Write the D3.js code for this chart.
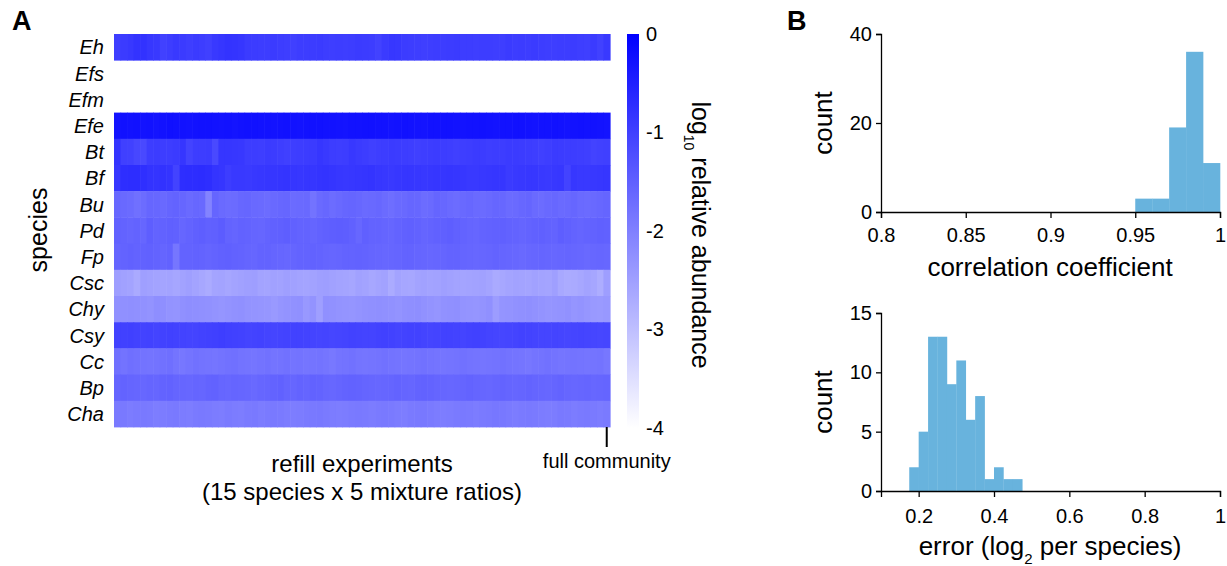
<!DOCTYPE html>
<html>
<head>
<meta charset="utf-8">
<script src="https://cdn.jsdelivr.net/npm/d3@7"></script>
<style>
  body { margin: 0; background: #fff; }
  svg { font-family: "Liberation Sans", Arial, sans-serif; }
  .axis path, .axis line { stroke: #000; stroke-width: 1.3; }
  .axis text { font-size: 20px; fill: #000; }
</style>
</head>
<body>
<svg id="chart" width="1227" height="566"></svg>
<script>
// ---- data ----
var species = ["Eh", "Efs", "Efm", "Efe", "Bt", "Bf", "Bu", "Pd", "Fp", "Csc", "Chy", "Csy", "Cc", "Bp", "Cha"];
// 75 refill experiments + full community (last column); Efs, Efm absent
var abundEh = [-0.98,-0.92,-0.88,-0.80,-0.78,-0.86,-0.90,-1.02,-0.95,-0.90, -0.93,-0.98,-0.92,-0.95,-1.00,-0.90,-0.85,-0.80,-0.82,-0.84, -0.92,-0.94,-0.96,-0.95,-0.93,-0.96,-0.98,-1.00,-0.95,-0.96, -0.94,-0.92,-0.95,-0.97,-0.96,-0.98,-0.95,-0.93,-0.94,-0.96, -1.04,-0.92,-0.86,-0.88,-0.94,-0.96,-0.97,-0.99,-0.98,-0.96, -0.95,-0.94,-0.92,-0.96,-0.95,-0.97,-0.96,-0.95,-0.98,-0.97, -0.93,-0.95,-0.94,-0.96,-0.92,-0.95,-0.97,-0.98,-0.95,-0.96, -0.94,-0.97,-0.99,-0.93,-1.02,-0.90];
var abundEfe = [-0.30,-0.26,-0.28,-0.27,-0.30,-0.29,-0.31,-0.28,-0.25,-0.27, -0.29,-0.30,-0.28,-0.27,-0.26,-0.28,-0.30,-0.29,-0.31,-0.28, -0.27,-0.26,-0.28,-0.29,-0.30,-0.28,-0.27,-0.29,-0.30,-0.28, -0.26,-0.27,-0.29,-0.28,-0.30,-0.31,-0.29,-0.28,-0.27,-0.26, -0.28,-0.29,-0.30,-0.28,-0.27,-0.29,-0.30,-0.31,-0.29,-0.28, -0.27,-0.26,-0.28,-0.30,-0.29,-0.28,-0.27,-0.29,-0.30,-0.28, -0.29,-0.27,-0.26,-0.28,-0.30,-0.29,-0.28,-0.27,-0.29,-0.30, -0.28,-0.27,-0.29,-0.28,-0.30,-0.32];
var abundBt = [-0.80,-1.00,-1.02,-1.12,-1.15,-0.95,-0.94,-0.96,-0.95,-0.93, -0.85,-1.05,-0.95,-0.96,-0.94,-1.15,-0.85,-0.84,-0.86,-0.88, -0.95,-0.96,-0.97,-0.93,-0.94,-0.98,-1.00,-0.97,-0.95,-0.94, -0.92,-0.85,-0.90,-0.95,-0.98,-0.96,-0.88,-0.93,-0.96,-1.00, -0.97,-0.95,-0.93,-0.94,-0.96,-0.98,-1.00,-0.97,-0.95,-0.94, -0.96,-0.98,-1.00,-0.97,-0.95,-0.93,-0.94,-0.97,-0.96,-0.95, -0.93,-0.92,-0.94,-0.96,-0.98,-1.00,-0.97,-0.92,-0.94,-0.96, -0.95,-0.97,-0.99,-1.05,-1.02,-1.00];
var abundBf = [-0.85,-0.72,-0.70,-0.71,-0.74,-0.80,-0.82,-0.79,-0.81,-1.05, -0.72,-0.70,-0.71,-0.69,-0.72,-0.82,-0.84,-0.95,-0.90,-0.89, -0.91,-0.88,-0.86,-0.85,-0.84,-0.83,-0.82,-0.84,-0.86,-0.85, -0.84,-0.82,-0.80,-0.83,-0.86,-0.88,-0.87,-0.85,-0.83,-0.82, -0.86,-0.88,-0.90,-0.87,-0.85,-0.84,-0.86,-0.88,-0.87,-0.85, -0.84,-0.83,-0.85,-0.87,-0.89,-0.90,-0.88,-0.86,-0.85,-0.85, -0.92,-0.90,-0.88,-0.86,-0.87,-0.89,-0.91,-0.88,-0.86,-1.05, -0.87,-0.89,-0.90,-0.88,-0.86,-0.84];
var abundBu = [-1.62,-1.65,-1.68,-1.75,-1.70,-1.60,-1.62,-1.64,-1.58,-1.56, -1.60,-1.66,-1.62,-1.64,-2.05,-1.58,-1.66,-1.70,-1.68,-1.62, -1.60,-1.64,-1.66,-1.70,-1.65,-1.62,-1.60,-1.68,-1.66,-1.64, -1.80,-1.66,-1.62,-1.70,-1.64,-1.60,-1.58,-1.62,-1.66,-1.64, -1.62,-1.68,-1.72,-1.66,-1.64,-1.60,-1.62,-1.70,-1.66,-1.58, -1.62,-1.66,-1.70,-1.64,-1.62,-1.66,-1.68,-1.64,-1.60,-1.62, -1.68,-1.66,-1.62,-1.58,-1.66,-1.70,-1.64,-1.62,-1.66,-1.64, -1.60,-1.66,-1.68,-1.64,-1.62,-1.58];
var abundPd = [-1.52,-1.56,-1.58,-1.55,-1.60,-1.48,-1.55,-1.54,-1.50,-1.52, -1.60,-1.56,-1.50,-1.48,-1.52,-1.50,-1.45,-1.55,-1.58,-1.54, -1.56,-1.58,-1.60,-1.55,-1.52,-1.50,-1.48,-1.52,-1.55,-1.56, -1.58,-1.54,-1.50,-1.48,-1.46,-1.48,-1.52,-1.62,-1.50,-1.55, -1.56,-1.58,-1.60,-1.55,-1.52,-1.50,-1.54,-1.58,-1.56,-1.52, -1.50,-1.48,-1.52,-1.55,-1.58,-1.60,-1.56,-1.54,-1.52,-1.50, -1.54,-1.56,-1.58,-1.55,-1.52,-1.50,-1.54,-1.56,-1.48,-1.52, -1.55,-1.58,-1.56,-1.54,-1.50,-1.52];
var abundFp = [-1.58,-1.55,-1.52,-1.56,-1.54,-1.52,-1.55,-1.58,-1.54,-1.85, -1.56,-1.55,-1.54,-1.56,-1.58,-1.55,-1.52,-1.50,-1.54,-1.56, -1.58,-1.60,-1.56,-1.55,-1.58,-1.60,-1.62,-1.58,-1.56,-1.55, -1.54,-1.56,-1.58,-1.60,-1.58,-1.56,-1.55,-1.54,-1.56,-1.58, -1.60,-1.62,-1.60,-1.58,-1.56,-1.55,-1.58,-1.60,-1.62,-1.60, -1.58,-1.56,-1.55,-1.58,-1.60,-1.62,-1.60,-1.58,-1.56,-1.58, -1.60,-1.62,-1.64,-1.62,-1.60,-1.58,-1.60,-1.62,-1.60,-1.58, -1.60,-1.62,-1.64,-1.62,-1.60,-1.62];
var abundCsc = [-2.48,-2.52,-2.55,-2.66,-2.50,-2.52,-2.56,-2.58,-2.55,-2.60, -2.54,-2.50,-2.55,-2.62,-2.68,-2.58,-2.55,-2.60,-2.56,-2.52, -2.50,-2.48,-2.55,-2.58,-2.52,-2.54,-2.50,-2.52,-2.56,-2.58, -2.54,-2.50,-2.48,-2.52,-2.55,-2.58,-2.60,-2.52,-2.56,-2.62, -2.58,-2.54,-2.68,-2.55,-2.60,-2.62,-2.56,-2.52,-2.56,-2.54, -2.50,-2.52,-2.55,-2.58,-2.56,-2.54,-2.52,-2.58,-2.66,-2.62, -2.58,-2.54,-2.56,-2.58,-2.52,-2.55,-2.58,-2.50,-2.64,-2.68, -2.66,-2.62,-2.56,-2.60,-2.72,-2.48];
var abundChy = [-2.28,-2.26,-2.24,-2.26,-2.28,-2.30,-2.22,-2.24,-2.30,-2.32, -2.26,-2.22,-2.24,-2.26,-2.28,-2.30,-2.34,-2.30,-2.28,-2.26, -2.30,-2.32,-2.34,-2.36,-2.40,-2.34,-2.30,-2.28,-2.26,-2.38, -2.30,-2.50,-2.26,-2.28,-2.30,-2.32,-2.34,-2.30,-2.28,-2.26, -2.24,-2.26,-2.28,-2.30,-2.26,-2.24,-2.22,-2.28,-2.30,-2.34, -2.28,-2.26,-2.24,-2.30,-2.32,-2.34,-2.30,-2.26,-2.44,-2.32, -2.30,-2.28,-2.26,-2.24,-2.28,-2.30,-2.34,-2.32,-2.30,-2.28, -2.34,-2.30,-2.36,-2.40,-2.42,-2.38];
var abundCsy = [-1.04,-1.02,-1.00,-1.03,-1.05,-1.04,-1.06,-1.04,-1.02,-1.03, -1.05,-1.07,-1.06,-1.04,-1.02,-1.00,-0.98,-1.00,-1.02,-1.04, -1.06,-1.05,-1.04,-1.06,-1.08,-1.07,-1.05,-1.04,-1.03,-1.05, -1.06,-1.08,-1.07,-1.10,-1.08,-1.06,-1.04,-1.05,-1.07,-1.06, -1.04,-1.02,-1.04,-1.06,-1.05,-1.03,-1.04,-1.06,-1.08,-1.06, -1.04,-1.03,-1.05,-1.06,-1.04,-1.02,-1.04,-1.06,-1.08,-1.10, -1.08,-1.06,-1.04,-1.05,-1.07,-1.09,-1.08,-1.06,-1.08,-1.10, -1.08,-1.06,-1.08,-1.10,-1.12,-1.10];
var abundCc = [-1.76,-1.80,-1.74,-1.78,-1.80,-1.82,-1.80,-1.78,-1.74,-1.82, -1.86,-1.82,-1.78,-1.80,-1.82,-1.84,-1.80,-1.78,-1.76,-1.80, -1.82,-1.84,-1.80,-1.78,-1.82,-1.80,-1.78,-1.82,-1.80,-1.84, -1.82,-1.80,-1.84,-1.88,-1.82,-1.80,-1.78,-1.82,-1.84,-1.82, -1.80,-1.78,-1.80,-1.82,-1.84,-1.82,-1.80,-1.78,-1.80,-1.82, -1.84,-1.82,-1.80,-1.78,-1.80,-1.82,-1.84,-1.82,-1.80,-1.78, -1.80,-1.82,-1.84,-1.86,-1.82,-1.80,-1.78,-1.80,-1.84,-1.82, -1.80,-1.82,-1.84,-1.82,-1.80,-1.86];
var abundBp = [-1.58,-1.56,-1.58,-1.60,-1.62,-1.58,-1.60,-1.56,-1.54,-1.58, -1.60,-1.62,-1.58,-1.60,-1.56,-1.54,-1.60,-1.62,-1.58,-1.60, -1.62,-1.64,-1.60,-1.58,-1.56,-1.52,-1.58,-1.60,-1.56,-1.58, -1.54,-1.56,-1.60,-1.62,-1.58,-1.56,-1.54,-1.56,-1.58,-1.60, -1.62,-1.60,-1.58,-1.56,-1.58,-1.60,-1.56,-1.54,-1.56,-1.58, -1.60,-1.62,-1.60,-1.58,-1.56,-1.58,-1.60,-1.62,-1.58,-1.56, -1.58,-1.60,-1.58,-1.56,-1.58,-1.60,-1.62,-1.58,-1.56,-1.60, -1.62,-1.60,-1.58,-1.62,-1.60,-1.58];
var abundCha = [-1.92,-1.90,-1.94,-1.92,-1.90,-1.92,-1.96,-1.94,-1.92,-1.90, -1.94,-1.96,-1.92,-1.90,-1.92,-1.94,-1.96,-1.92,-1.94,-1.96, -1.92,-1.90,-1.94,-1.92,-1.90,-1.92,-1.94,-1.96,-1.94,-1.92, -1.90,-1.88,-1.92,-1.94,-1.96,-1.94,-1.92,-1.90,-1.92,-1.94, -1.92,-1.90,-1.92,-1.94,-1.96,-1.92,-1.90,-1.88,-1.92,-1.94, -1.96,-1.94,-1.92,-1.90,-1.92,-1.94,-1.92,-1.90,-1.86,-1.88, -1.92,-1.94,-1.92,-1.90,-1.92,-1.94,-1.96,-1.94,-1.90,-1.92, -1.94,-1.92,-1.90,-1.92,-1.94,-1.92];
var colorTicks = [0, -1, -2, -3, -4];

// histogram of correlation coefficients (bin lower edges, width 0.01)
var corrBinStart = [0.95, 0.96, 0.97, 0.98, 0.99];
var corrCounts = [3, 3, 19, 36, 11];
var corrTicks = [0.8, 0.85, 0.9, 0.95, 1];
var countTicksTop = [0, 20, 40];
// histogram of errors (bin lower edges, width 0.025)
var errBinStart = [0.175, 0.2, 0.225, 0.25, 0.275, 0.3, 0.325, 0.35, 0.375, 0.4, 0.425, 0.45];
var errCounts = [2, 5, 13, 13, 9, 11, 6, 8, 1, 2, 1, 1];
var errTicks = [0.2, 0.4, 0.6, 0.8, 1];
var countTicksBottom = [0, 5, 10, 15];

var rows = {
	Eh: abundEh, Efs: null, Efm: null, Efe: abundEfe, Bt: abundBt, Bf: abundBf,
	Bu: abundBu, Pd: abundPd, Fp: abundFp, Csc: abundCsc, Chy: abundChy,
	Csy: abundCsy, Cc: abundCc, Bp: abundBp, Cha: abundCha
};

var svg = d3.select("#chart");
var histColor = "#68b3dd";

// ---- panel A: heatmap ----
var nCols = abundEh.length;
var x = d3.scaleBand().domain(d3.range(nCols)).range([114, 610]);
var y = d3.scaleBand().domain(species).range([34, 427]);
var color = d3.scaleLinear().domain([-4, 0]).range(["#ffffff", "#0000ff"]);

var cells = [];
species.forEach(function(s) {
	if (!rows[s]) return;
	rows[s].forEach(function(v, i) { cells.push({s: s, i: i, v: v}); });
});

svg.append("g").selectAll("rect")
	.data(cells)
	.enter().append("rect")
	.attr("x", function(d) { return x(d.i); })
	.attr("y", function(d) { return y(d.s); })
	.attr("width", x.bandwidth() + 0.6)
	.attr("height", y.bandwidth() + 0.4)
	.attr("fill", function(d) { return color(d.v); });

svg.append("g").selectAll("text")
	.data(species)
	.enter().append("text")
	.attr("x", 104)
	.attr("y", function(d) { return y(d) + y.bandwidth() / 2; })
	.attr("dy", "0.36em")
	.attr("text-anchor", "end")
	.style("font-size", "20px")
	.style("font-style", "italic")
	.text(function(d) { return d; });

svg.append("text")
	.attr("transform", "translate(47,230) rotate(-90)")
	.attr("text-anchor", "middle")
	.style("font-size", "25px")
	.text("species");

// full community marker
var fcX = x(nCols - 1) + x.bandwidth() / 2;
svg.append("line")
	.attr("x1", fcX).attr("x2", fcX)
	.attr("y1", 427).attr("y2", 447)
	.attr("stroke", "#000").attr("stroke-width", 2);
svg.append("text")
	.attr("x", fcX).attr("y", 468)
	.attr("text-anchor", "middle")
	.style("font-size", "20px")
	.text("full community");

svg.append("text")
	.attr("x", 362).attr("y", 472)
	.attr("text-anchor", "middle")
	.style("font-size", "24px")
	.text("refill experiments");
svg.append("text")
	.attr("x", 362).attr("y", 500)
	.attr("text-anchor", "middle")
	.style("font-size", "24px")
	.text("(15 species x 5 mixture ratios)");

// colour bar
var cb = d3.scaleLinear().domain([0, -4]).range([34, 428]);
var grad = svg.append("defs").append("linearGradient")
	.attr("id", "cbGrad")
	.attr("x1", 0).attr("y1", 0).attr("x2", 0).attr("y2", 1);
d3.range(0, 1.01, 0.25).forEach(function(t) {
	grad.append("stop")
		.attr("offset", t)
		.attr("stop-color", color(cb.invert(34 + t * (428 - 34))));
});
svg.append("rect")
	.attr("x", 627).attr("y", cb(0))
	.attr("width", 12).attr("height", cb(-4) - cb(0))
	.attr("fill", "url(#cbGrad)");

svg.append("g")
	.attr("class", "axis cbar")
	.attr("transform", "translate(639,0)")
	.call(d3.axisRight(cb).tickValues(colorTicks).tickSize(0).tickPadding(7).tickFormat(function(d) { return String(d); }))
	.call(function(g) { g.select(".domain").remove(); });

var cbLabel = svg.append("text")
	.attr("transform", "translate(692,235) rotate(90)")
	.attr("text-anchor", "middle")
	.style("font-size", "25px");
cbLabel.append("tspan").text("log");
cbLabel.append("tspan").attr("baseline-shift", "sub").style("font-size", "14px").text("10");
cbLabel.append("tspan").text(" relative abundance");

// panel letters
svg.append("text").attr("x", 12).attr("y", 30)
	.style("font-size", "27px").style("font-weight", "bold").text("A");
svg.append("text").attr("x", 787).attr("y", 30)
	.style("font-size", "27px").style("font-weight", "bold").text("B");

// ---- panel B: histograms ----
function histogram(starts, counts, width, xs, ys) {
	svg.append("g").selectAll("rect")
		.data(starts.map(function(s, i) { return {s: s, c: counts[i]}; }))
		.enter().append("rect")
		.attr("x", function(d) { return xs(d.s); })
		.attr("y", function(d) { return ys(d.c); })
		.attr("width", function(d) { return xs(d.s + width) - xs(d.s) + 0.3; })
		.attr("height", function(d) { return ys(0) - ys(d.c); })
		.attr("fill", histColor);
}

var xTop = d3.scaleLinear().domain([0.8, 1]).range([881, 1220]);
var yTop = d3.scaleLinear().domain([0, 40]).range([212, 34]);
histogram(corrBinStart, corrCounts, 0.01, xTop, yTop);
svg.append("g").attr("class", "axis")
	.attr("transform", "translate(0,212)")
	.call(d3.axisBottom(xTop).tickValues(corrTicks).tickSizeOuter(0).tickSize(6).tickPadding(10).tickFormat(d3.format("~g")));
svg.append("g").attr("class", "axis")
	.attr("transform", "translate(881,0)")
	.call(d3.axisLeft(yTop).tickValues(countTicksTop).tickSizeOuter(0).tickSize(5).tickPadding(4));
svg.append("text")
	.attr("transform", "translate(832,123) rotate(-90)")
	.attr("text-anchor", "middle")
	.style("font-size", "26px")
	.text("count");
svg.append("text")
	.attr("x", 1050).attr("y", 276)
	.attr("text-anchor", "middle")
	.style("font-size", "26px")
	.text("correlation coefficient");

var xBot = d3.scaleLinear().domain([0.1, 1]).range([881, 1220]);
var yBot = d3.scaleLinear().domain([0, 15]).range([491, 313]);
histogram(errBinStart, errCounts, 0.025, xBot, yBot);
svg.append("g").attr("class", "axis")
	.attr("transform", "translate(0,491)")
	.call(d3.axisBottom(xBot).tickValues(errTicks).tickSizeOuter(0).tickSize(6).tickPadding(12).tickFormat(d3.format("~g")));
svg.append("g").attr("class", "axis")
	.attr("transform", "translate(881,0)")
	.call(d3.axisLeft(yBot).tickValues(countTicksBottom).tickSizeOuter(0).tickSize(5).tickPadding(4));
svg.append("text")
	.attr("transform", "translate(832,402) rotate(-90)")
	.attr("text-anchor", "middle")
	.style("font-size", "26px")
	.text("count");
var errLabel = svg.append("text")
	.attr("x", 1050).attr("y", 555)
	.attr("text-anchor", "middle")
	.style("font-size", "26px");
errLabel.append("tspan").text("error (log");
errLabel.append("tspan").attr("baseline-shift", "sub").style("font-size", "15px").text("2");
errLabel.append("tspan").text(" per species)");
</script>
</body>
</html>
